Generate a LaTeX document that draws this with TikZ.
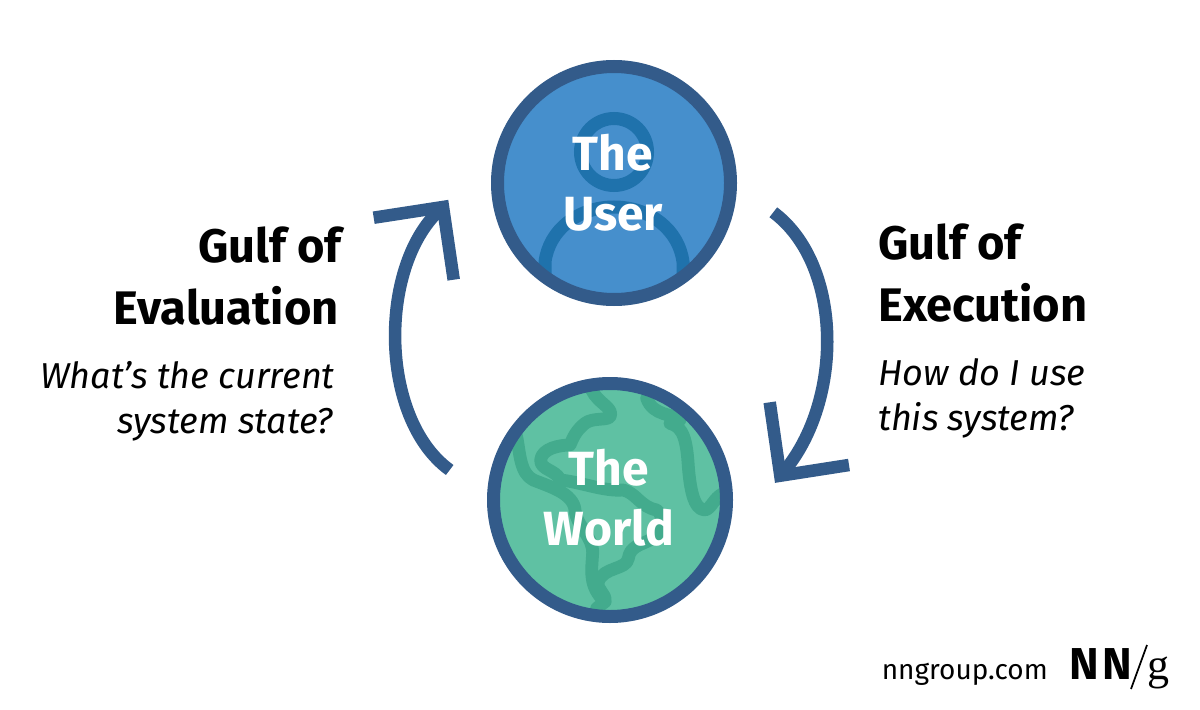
\documentclass[tikz,border=0pt]{standalone}
\usepackage{fontspec}
\setmainfont{Fira Sans}
\newfontfamily\nnserif{Liberation Serif}
\usetikzlibrary{calc}
\definecolor{ringblue}{HTML}{335B8A}
\definecolor{userfill}{HTML}{468FCC}
\definecolor{userdark}{HTML}{1F72AC}
\definecolor{worldfill}{HTML}{5FC1A3}
\definecolor{worlddark}{HTML}{43AB8D}
\tikzset{
 circ/.style={circle,minimum size=174pt,inner sep=0pt},
 ringline/.style={draw=ringblue,line width=9.75pt},
 head/.style={align=center,text=white,font=\fontsize{36}{45}\selectfont\bfseries},
 gulf/.style={inner sep=0pt,font=\fontsize{35.3}{45}\selectfont\bfseries,text=black},
 sub/.style={inner sep=0pt,font=\fontsize{27}{34}\selectfont\itshape,text=black},
 arc/.style={draw=ringblue,line width=9.4pt},
 land/.style={draw=worlddark,line width=9.6pt,line cap=round,line join=round},
 man/.style={draw=userdark,line width=9.75pt}
}
\begin{document}
\begin{tikzpicture}[x=0.75pt,y=-0.75pt]
\useasboundingbox (0,0) rectangle (1200,710);
\fill[white] (0,0) rectangle (1200,710);
% user
\node[circ,fill=userfill] (user) at (614,183) {};
\begin{scope}
\clip (614,183) circle (113);
\draw[man] (614,152) circle (33.5);
\draw[man] (545,320) -- (545,262) .. controls (549,230) and (578,207) .. (614,207) .. controls (650,207) and (679,230) .. (683,262) -- (683,320);
\end{scope}
\draw[ringline] (user.center) circle (116.5);
\node[head] (usertxt) at (613,183) {The\\User};
% world
\node[circ,fill=worldfill] (world) at (610,500) {};
\begin{scope}
\clip (610,500) circle (113);
\begin{scope}[shift={(470,370)},x=.25pt,y=-.25pt]
\draw[land] (365,60) .. controls (385,100) and (425,110) .. (422,135) .. controls (420,155) and (370,140) .. (345,160) .. controls (320,180) and (310,200) .. (300,225) .. controls (270,225) and (215,235) .. (212,270) .. controls (210,300) and (260,300) .. (270,330) .. controls (330,335) and (400,365) .. (460,360) .. controls (500,370) and (510,410) .. (560,420) .. controls (590,440) and (570,500) .. (540,510) .. controls (510,525) and (480,530) .. (475,565) .. controls (470,600) and (400,590) .. (385,635) .. controls (378,660) and (410,670) .. (405,695) -- (380,715);
\draw[land] (140,200) .. controls (150,250) and (150,310) .. (190,330) .. controls (240,350) and (310,370) .. (315,420) .. controls (320,470) and (370,500) .. (368,550) .. controls (365,600) and (355,650) .. (405,695);
\draw[land] (530,85) .. controls (550,140) and (610,130) .. (630,150) -- (600,160) .. controls (640,170) and (650,210) .. (655,290) .. controls (660,350) and (670,420) .. (705,420) .. controls (725,415) and (730,385) .. (760,370);
\end{scope}
\end{scope}
\draw[ringline] (world.center) circle (116.5);
\node[head] (worldtxt) at (609,498) {The\\World};
% arrows
\coordinate (rs) at (773.3,212.3); \coordinate (re) at (780.3,475.7);
\coordinate (ra) at (769.7,402.3); \coordinate (rb) at (849,465);
\coordinate (ls) at (449.7,470); \coordinate (le) at (443,207);
\coordinate (la) at (373.7,217.7); \coordinate (lb) at (453.7,279.7);
\draw[arc] (rs) .. controls (844,265) and (844,405) .. (re);
\draw[arc,line join=miter] (ra) -- (re) -- (rb);
\draw[arc] (ls) .. controls (378,418) and (378,262) .. (le);
\draw[arc,line join=miter] (la) -- (le) -- (lb);
% text
\node[gulf,anchor=base east] (ge1) at (342,262) {Gulf of};
\node[gulf,anchor=base east] (ge2) at (339,324) {Evaluation};
\node[sub,anchor=base east] (ge3) at (335,388) {What’s the current};
\node[sub,anchor=base east] (ge4) at (333,433) {system state?};
\node[gulf,anchor=base west] (gx1) at (878,259) {Gulf of};
\node[gulf,anchor=base west] (gx2) at (878,321) {Execution};
\node[sub,anchor=base west] (gx3) at (878,385) {How do I use};
\node[sub,anchor=base west] (gx4) at (878,430) {this system?};
\node[inner sep=0pt,anchor=base east,font=\fontsize{21}{25}\selectfont] (site) at (1048,679) {nngroup.com};
\node[anchor=base west,font=\fontsize{33.5}{40}\selectfont\bfseries,inner sep=0pt] (nn) at (1069,679) {N\hspace{3pt}N};
\coordinate (sa) at (1131,689); \coordinate (sb) at (1147,645);
\draw[black,line width=1.3pt] (sa) -- (sb);
\node[anchor=base west,font=\fontsize{33}{40}\selectfont\nnserif,inner sep=0pt] (g) at (1147,679) {g};
\end{tikzpicture}
\end{document}
